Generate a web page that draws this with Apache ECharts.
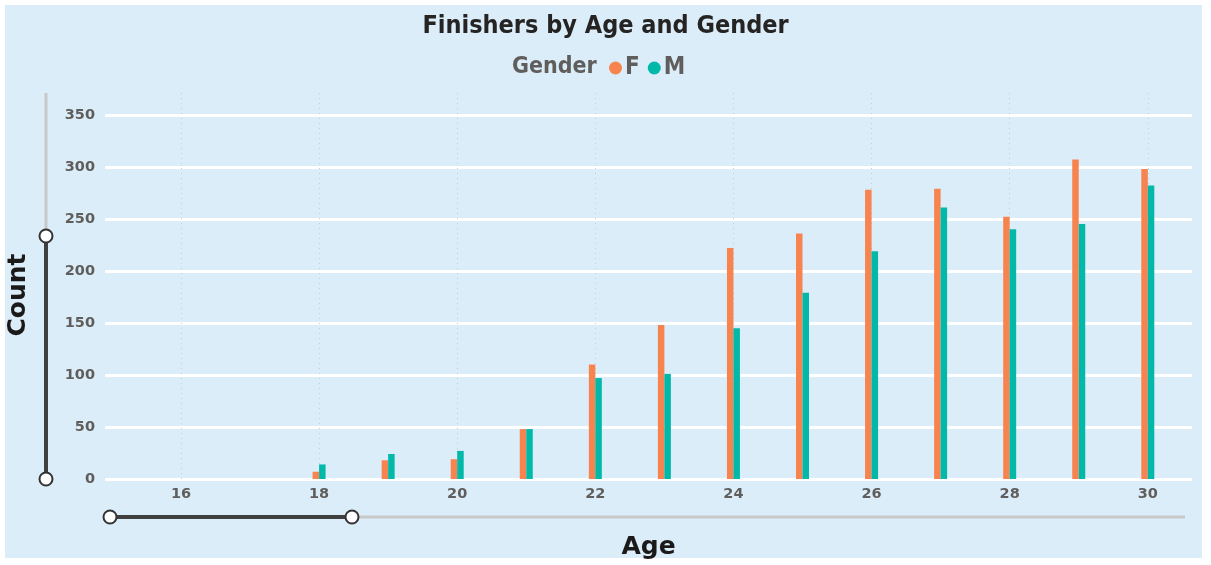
<!DOCTYPE html>
<html>
<head>
<meta charset="utf-8">
<script src="https://cdn.jsdelivr.net/npm/echarts@6/dist/echarts.min.js"></script>
<style>
html,body{margin:0;padding:0;background:#fff;}
#chart{width:1211px;height:565px;}
</style>
</head>
<body>
<div id="chart"></div>
<script>
const ages = [15, 16, 17, 18, 19, 20, 21, 22, 23, 24, 25, 26, 27, 28, 29, 30];
const femaleCounts = [0, 0, 0, 7, 18, 19, 48, 110, 148, 222, 236, 278, 279, 252, 307, 298];
const maleCounts = [0, 0, 0, 14, 24, 27, 48, 97, 101, 145, 179, 219, 261, 240, 245, 282];
const xTicks = [16, 18, 20, 22, 24, 26, 28, 30];
const yTicks = [0, 50, 100, 150, 200, 250, 300, 350];

const chart = echarts.init(document.getElementById('chart'));
const labelColor = '#605E5C';
const condensed = '"Liberation Sans Narrow", "DejaVu Sans Condensed", sans-serif';
const heavy = '"DejaVu Sans", sans-serif';

chart.setOption({
  backgroundColor: '#ffffff',
  animation: false,
  title: [
    { text: 'Finishers by Age and Gender', left: 'center', top: 9,
      textStyle: { fontFamily: condensed, fontWeight: 'bold', fontSize: 25, color: '#252423' } },
    { text: 'Gender', left: 507, top: 51,
      textStyle: { fontFamily: condensed, fontWeight: 'bold', fontSize: 23, color: labelColor } }
  ],
  legend: {
    data: ['F', 'M'], left: 604, top: 51, icon: 'circle', itemWidth: 13, itemHeight: 13, itemGap: 8,
    textStyle: { fontFamily: condensed, fontWeight: 'bold', fontSize: 24, color: labelColor, padding: [0,0,0,-2] }
  },
  grid: { left: 105, right: 19, top: 93, bottom: 86, containLabel: false, outerBoundsMode: 'none' },
  xAxis: {
    type: 'value', min: 14.9, max: 30.64,
    name: 'Age', nameLocation: 'middle', nameGap: 56,
    nameTextStyle: { fontFamily: heavy, fontWeight: 'bold', fontSize: 25, color: '#1b1a19' },
    axisLine: { show: false },
    axisTick: { show: false, customValues: xTicks },
    axisLabel: { customValues: xTicks, margin: 8, fontFamily: heavy, fontWeight: 'bold', fontSize: 14.5, color: labelColor },
    splitLine: { show: true, lineStyle: { color: '#C5CCD3', type: [1, 4], width: 1 } }
  },
  yAxis: {
    type: 'value', min: 0, max: 371,
    axisLine: { show: false },
    axisTick: { show: false, customValues: yTicks },
    axisLabel: { customValues: yTicks, margin: 10, fontFamily: heavy, fontWeight: 'bold', fontSize: 14.5, color: labelColor },
    splitLine: { show: true, lineStyle: { color: '#FFFFFF', width: 3 } }
  },
  series: [
    { name: 'F', type: 'bar', barWidth: 6.5, barGap: '0%', itemStyle: { color: '#F7834F' },
      data: ages.map((a, i) => [a, femaleCounts[i]]) },
    { name: 'M', type: 'bar', barWidth: 6.5, barGap: '0%', itemStyle: { color: '#02B8A8' },
      data: ages.map((a, i) => [a, maleCounts[i]]) }
  ],
  graphic: [
    { type: 'rect', z: -10, shape: { x: 5, y: 5, width: 1197, height: 553 }, style: { fill: '#DCEDFA' } },
    { type: 'text', z: 10, x: 18, y: 295, rotation: Math.PI / 2,
      style: { text: 'Count', x: 0, y: 0, align: 'center', verticalAlign: 'middle',
        font: 'bold 25px "DejaVu Sans", sans-serif', fill: '#1b1a19' } },
    { type: 'line', z: 10, shape: { x1: 46, y1: 93, x2: 46, y2: 236 }, style: { stroke: '#C8C8C8', lineWidth: 3 } },
    { type: 'line', z: 10, shape: { x1: 46, y1: 236, x2: 46, y2: 479 }, style: { stroke: '#404040', lineWidth: 4 } },
    { type: 'circle', z: 11, shape: { cx: 46, cy: 236, r: 6.5 }, style: { fill: '#fff', stroke: '#333', lineWidth: 2 } },
    { type: 'circle', z: 11, shape: { cx: 46, cy: 479, r: 6.5 }, style: { fill: '#fff', stroke: '#333', lineWidth: 2 } },
    { type: 'line', z: 10, shape: { x1: 352, y1: 517, x2: 1185, y2: 517 }, style: { stroke: '#C8C8C8', lineWidth: 3 } },
    { type: 'line', z: 10, shape: { x1: 110, y1: 517, x2: 352, y2: 517 }, style: { stroke: '#404040', lineWidth: 4 } },
    { type: 'circle', z: 11, shape: { cx: 110, cy: 517, r: 6.5 }, style: { fill: '#fff', stroke: '#333', lineWidth: 2 } },
    { type: 'circle', z: 11, shape: { cx: 352, cy: 517, r: 6.5 }, style: { fill: '#fff', stroke: '#333', lineWidth: 2 } }
  ]
});
</script>
</body>
</html>
